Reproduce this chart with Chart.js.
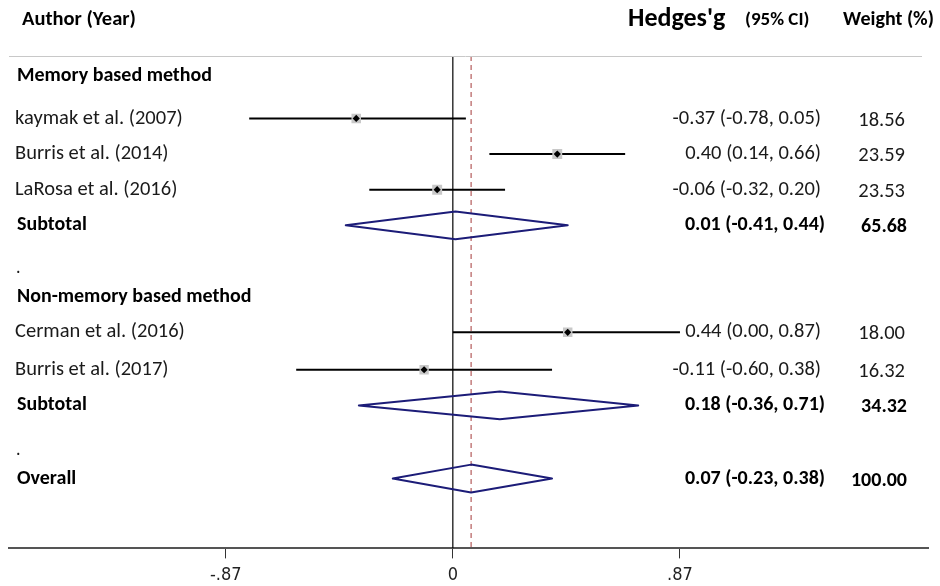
<!DOCTYPE html>
<html>
<head>
<meta charset="utf-8">
<script src="https://cdn.jsdelivr.net/npm/chart.js@4"></script>
<style>
html,body{margin:0;padding:0;background:#fff;}
canvas{display:block;}
</style>
</head>
<body>
<canvas id="c" width="940" height="586"></canvas>
<script>
// ---- data ----
const rowLabels = ['Memory based method','kaymak et al. (2007)','Burris et al. (2014)','LaRosa et al. (2016)','Subtotal','.','Non-memory based method','Cerman et al. (2016)','Burris et al. (2017)','Subtotal','.','Overall'];
const rowKinds  = ['group','study','study','study','sub','dot','group','study','study','sub','dot','sub'];
const est    = [null,-0.37,0.40,-0.06,0.01,null,null,0.44,-0.11,0.18,null,0.07];
const ciLow  = [null,-0.78,0.14,-0.32,-0.41,null,null,0.00,-0.60,-0.36,null,-0.23];
const ciHigh = [null,0.05,0.66,0.20,0.44,null,null,0.87,0.38,0.71,null,0.38];
const weight = [null,18.56,23.59,23.53,65.68,null,null,18.00,16.32,34.32,null,100.00];
const tickValues = [-0.87,0,0.87];
const tickLabels = ['-.87','0','.87'];
const overallEst = 0.07;

// ---- layout (row slots) ----
const rowPos = [-0.2,1,2,3,4,5.3,6,7,8.05,9.05,10.4,11.1];
const Y_MIN = -0.75, Y_MAX = 13.06;
const FONT = 'Carlito, Lato, "Open Sans", sans-serif';

const datasets = [];
const studyIdx = rowKinds.map((k,i)=>k==='study'?i:-1).filter(i=>i>=0);
// black centre dots
datasets.push({
  type:'scatter', order:0,
  data: studyIdx.map(i=>({x:est[i], y:rowPos[i]})),
  pointStyle:'rectRot', pointRadius:3.6, backgroundColor:'#000', borderWidth:0
});
// grey weight boxes
datasets.push({
  type:'scatter', order:1,
  data: studyIdx.map(i=>({x:est[i], y:rowPos[i]})),
  pointStyle:'rect', pointRadius: studyIdx.map(i=>5.6+weight[i]*0.06),
  backgroundColor:'#c8c8c8', borderWidth:0
});
// CI lines
studyIdx.forEach(i=>{
  datasets.push({
    type:'line', order:2,
    data:[{x:ciLow[i],y:rowPos[i]},{x:ciHigh[i],y:rowPos[i]}],
    borderColor:'#000', borderWidth:2, pointRadius:0, fill:false
  });
});
// diamonds
const H = 0.39;
rowKinds.forEach((k,i)=>{
  if(k!=='sub') return;
  const r=rowPos[i];
  datasets.push({
    type:'line', order:3,
    data:[{x:ciLow[i],y:r},{x:est[i],y:r-H},{x:ciHigh[i],y:r},{x:est[i],y:r+H},{x:ciLow[i],y:r}],
    borderColor:'#1c1c78', borderWidth:2, borderJoinStyle:'round', borderCapStyle:'round',
    pointRadius:0, fill:false, tension:0
  });
});
// reference lines
datasets.push({
  type:'line', order:5,
  data:[{x:0,y:Y_MIN},{x:0,y:Y_MAX}],
  borderColor:'#000', borderWidth:1.2, pointRadius:0, fill:false
});
datasets.push({
  type:'line', order:4,
  data:[{x:overallEst,y:Y_MIN},{x:overallEst,y:Y_MAX}],
  borderColor:'#b35a5a', borderWidth:1.2, borderDash:[5,4], pointRadius:0, fill:false
});

const textPlugin = {
  id:'forestText',
  afterDraw(chart){
    const ctx = chart.ctx;
    const ys = chart.scales.y;
    ctx.save();
    ctx.textBaseline='middle';
    ctx.fillStyle='#000';
    ctx.textAlign='left';
    ctx.font='bold 20.5px '+FONT;
    ctx.fillText('Author (Year)',22,20);
    ctx.font='bold 26px '+FONT;
    ctx.fillText("Hedges'g",628,19);
    ctx.font='bold 19px '+FONT;
    ctx.fillText('(95% CI)',745,20);
    ctx.font='bold 20px '+FONT;
    ctx.fillText('Weight (%)',843,20);
    ctx.strokeStyle='#c8c8c8';
    ctx.lineWidth=1;
    ctx.beginPath();ctx.moveTo(9,56.5);ctx.lineTo(922,56.5);ctx.stroke();
    rowLabels.forEach((lab,i)=>{
      const y = ys.getPixelForValue(rowPos[i]);
      const k = rowKinds[i];
      const bold = (k==='group'||k==='sub');
      ctx.fillStyle = bold ? '#000' : '#1a1a1a';
      ctx.textAlign='left';
      if(k==='dot'){
        ctx.font='18px '+FONT;
        ctx.fillText('.',16,y-3);
        return;
      }
      ctx.font=(bold?'bold 20px ':'20.5px ')+FONT;
      ctx.fillText(lab, bold?17:15, y);
      if(est[i]!==null){
        const t = est[i].toFixed(2)+' ('+ciLow[i].toFixed(2)+', '+ciHigh[i].toFixed(2)+')';
        ctx.textAlign='right';
        ctx.fillText(t, bold?825:821, y);
        ctx.fillText(weight[i].toFixed(2), bold?907:905, y+2);
      }
    });
    ctx.restore();
  }
};

new Chart(document.getElementById('c'),{
  type:'scatter',
  data:{datasets},
  options:{
    responsive:false, animation:false, devicePixelRatio:1,
    layout:{padding:{left:9,right:12,top:56,bottom:-6}},
    plugins:{legend:{display:false},tooltip:{enabled:false}},
    scales:{
      x:{
        type:'linear', min:-1.7, max:1.82,
        afterBuildTicks(s){ s.ticks = tickValues.map(v=>({value:v})); },
        ticks:{
          callback(v){ const i=tickValues.indexOf(v); return i>=0?tickLabels[i]:''; },
          font:{family:'"Liberation Sans Narrow","DejaVu Sans Condensed",sans-serif', size:18},
          color:'#222', padding:6, maxRotation:0, autoSkip:false
        },
        grid:{drawOnChartArea:false, drawTicks:true, tickLength:10, color:'#333', tickWidth:1},
        border:{display:true, color:'#555', width:2}
      },
      y:{
        type:'linear', display:false, reverse:true, min:Y_MIN, max:Y_MAX
      }
    }
  },
  plugins:[textPlugin]
});
</script>
</body>
</html>
